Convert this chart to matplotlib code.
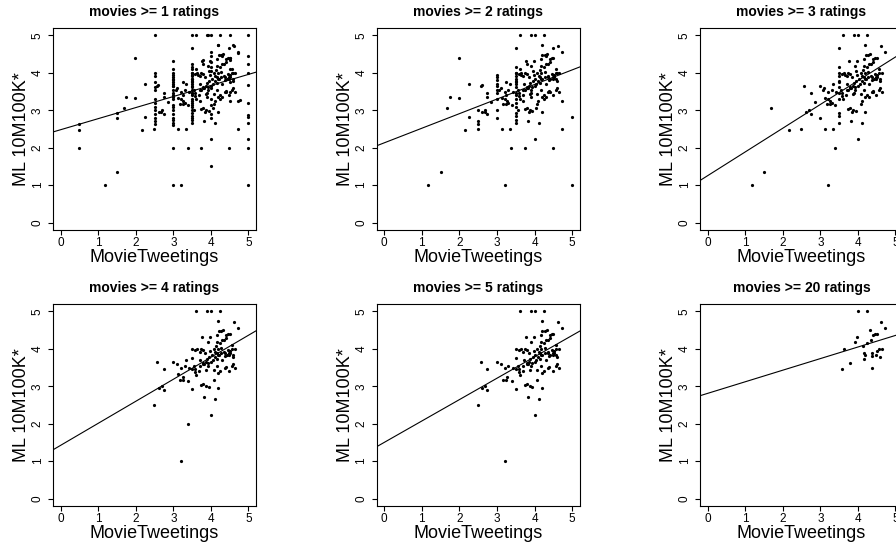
import numpy as np
import matplotlib
matplotlib.use("Agg")
import matplotlib.pyplot as plt

plt.rcParams.update({
    "font.family": ["Liberation Sans", "DejaVu Sans"],
    "axes.linewidth": 0.8,
    "xtick.major.width": 0.8,
    "ytick.major.width": 0.8,
    "xtick.major.size": 3.6,
    "ytick.major.size": 3.6,
})

# --- data: (MovieTweetings, ML 10M100K*) per minimum rating count ---------
# movies with >= 20 ratings
mt_20 = [4.0, 4.25, 4.62, 4.72, 3.98, 3.91, 4.32, 4.4, 4.45, 4.5, 4.35, 4.25, 4.14, 4.56,
         4.65, 3.63, 4.52, 4.37, 4.15, 4.18, 4.49, 4.38, 4.6, 4.15, 3.8, 3.58, 4.37]
ml_20 = [5.0, 5.0, 4.72, 4.55, 4.32, 4.18, 4.5, 4.37, 4.4, 4.4, 4.25, 4.15, 4.07, 4.0,
         4.0, 4.0, 3.95, 3.88, 3.88, 3.83, 3.85, 3.81, 3.78, 3.72, 3.63, 3.47, 3.5]

# movies with 5..19 ratings
mt_5 = [3.6, 3.9, 4.2, 4.21, 4.28, 3.76, 4.16, 4.4, 4.16, 4.3, 4.57,
        3.51, 3.58, 3.75, 3.79, 3.98, 4.07, 4.18, 4.27,
        2.57, 3.0, 3.1, 3.5, 2.74, 3.21, 3.42, 3.5,
        3.26, 3.17, 3.25, 3.39, 3.59, 3.61, 2.69, 2.61, 2.74, 2.49,
        3.5, 3.75, 3.79, 3.88, 3.94, 4.2, 3.82, 4.12, 4.0, 3.2,
        3.72, 3.82, 3.89, 3.93, 4.0, 4.05, 4.1, 4.21, 4.27, 4.35, 4.42, 4.48, 4.51, 4.58,
        4.6, 4.65, 4.56, 4.39, 4.48, 4.16, 4.07, 3.88, 3.91, 3.79, 3.7, 3.68, 4.25, 4.2, 4.07,
        3.85, 3.7, 4.02, 4.12, 3.95, 4.3, 3.86, 4.45, 3.3, 3.55]
ml_5 = [5.0, 5.0, 4.74, 4.49, 4.49, 4.33, 4.38, 4.3, 4.18, 4.23, 4.1,
        4.0, 3.98, 4.0, 3.97, 3.95, 4.0, 4.0, 4.02,
        3.66, 3.64, 3.6, 3.75, 3.46, 3.5, 3.48, 3.47,
        3.24, 3.17, 3.17, 3.13, 3.38, 3.3, 3.0, 2.95, 2.9, 2.5,
        2.92, 3.04, 3.06, 3.0, 2.98, 2.95, 2.72, 2.66, 2.22, 1.0,
        3.7, 3.6, 3.72, 3.63, 3.66, 3.69, 3.79, 3.83, 3.88, 3.92, 3.85, 3.88, 3.9, 3.83,
        3.6, 3.5, 3.55, 3.51, 3.41, 3.55, 3.44, 3.44, 3.53, 3.6, 3.53, 3.42, 3.42, 3.35, 3.16,
        3.88, 3.93, 3.85, 3.93, 3.78, 3.7, 3.65, 3.98, 3.55, 3.55]

# movies with exactly 4 ratings
mt_4 = [3.38, 3.34, 3.12]
ml_4 = [2.0, 3.7, 3.33]

# movies with exactly 3 ratings
mt_3 = [1.17, 1.5, 1.68, 2.16, 2.85, 3.0, 3.12, 3.34, 3.5, 3.5, 3.5, 3.5, 3.5, 3.5, 3.5, 3.5,
        3.06, 3.2, 3.3, 3.65, 3.75, 3.9, 4.1, 3.85, 4.3, 4.4, 3.95]
ml_3 = [1.0, 1.34, 3.05, 2.46, 3.23, 2.79, 2.5, 2.5, 4.66, 4.16, 3.91, 3.79, 3.61, 3.31, 2.65, 2.86,
        3.54, 3.3, 3.2, 3.95, 3.55, 3.45, 3.25, 2.95, 3.35, 3.5, 4.05]

# movies with exactly 2 ratings
mt_2 = [1.99, 1.99, 1.74, 2.25, 2.25, 2.5, 2.5, 2.5, 2.6, 2.68, 2.74,
        3.0, 3.0, 3.0, 3.0, 3.0, 3.0, 3.0, 3.0,
        3.5, 3.5, 3.5, 3.5, 3.5, 3.5, 3.5,
        3.75, 4.49, 4.73, 4.73, 5.0, 5.0, 4.49,
        3.25, 3.6, 3.8, 4.3, 3.7, 4.05, 4.25, 3.25, 4.6, 3.9, 3.55]
ml_2 = [4.39, 3.34, 3.35, 3.71, 2.82, 2.72, 2.63, 3.0, 3.67, 2.96, 3.36,
        3.95, 3.9, 3.8, 3.7, 3.55, 3.45, 3.3, 3.0,
        4.0, 3.85, 3.7, 3.4, 3.2, 3.1, 2.75,
        2.0, 2.0, 2.5, 3.25, 2.83, 1.0, 4.66,
        3.75, 4.1, 4.25, 4.45, 3.25, 3.05, 3.3, 3.4, 4.0, 3.35, 3.0]

# movies with a single rating
mt_1 = [0.5, 0.5, 0.5, 1.5, 1.5,
        2.5, 2.5, 2.5, 2.5, 2.5, 2.5, 2.5, 2.5, 2.5, 2.5, 2.5,
        3.0, 3.0, 3.0, 3.0, 3.0, 3.0, 3.0, 3.0, 3.0, 3.0, 3.0, 3.0, 3.0, 3.0, 3.0, 3.0,
        3.5, 3.5, 3.5, 3.5, 3.5, 3.5, 3.5, 3.5, 3.5, 3.5, 3.5, 3.5,
        4.0, 4.0, 4.0, 4.0, 4.0, 4.0, 4.0, 4.0, 4.0, 4.0, 4.0, 3.92,
        4.5, 4.5, 4.5, 4.5, 4.5, 4.5, 4.5,
        5.0, 5.0, 5.0, 5.0, 5.0, 5.0, 5.0, 5.0, 5.0, 5.0,
        4.77, 4.72, 4.6, 4.18, 3.8]
ml_1 = [2.64, 2.46, 2.0, 2.79, 2.94,
        5.0, 4.0, 3.92, 3.75, 3.62, 3.55, 3.3, 3.2, 3.1, 2.9, 2.8,
        4.33, 4.1, 4.0, 3.85, 3.75, 3.65, 3.4, 3.35, 3.15, 3.1, 2.9, 2.75, 2.67, 2.6, 2.0, 1.0,
        5.0, 4.25, 4.1, 3.95, 3.85, 3.65, 3.55, 3.45, 3.25, 3.15, 3.0, 2.8,
        4.55, 4.45, 4.3, 4.15, 4.05, 3.6, 3.3, 3.15, 2.9, 2.8, 1.5, 5.0,
        5.0, 4.4, 4.35, 4.1, 3.75, 3.5, 3.25,
        5.0, 4.46, 4.25, 4.0, 3.67, 3.2, 2.87, 2.67, 2.22, 2.0,
        3.27, 4.54, 4.75, 4.75, 4.34]

# fitted lines (intercept, slope) per threshold
thresholds = [1, 2, 3, 4, 5, 20]
intercepts = [2.48, 2.13, 1.25, 1.42, 1.50, 2.81]
slopes = [0.296, 0.39, 0.635, 0.589, 0.572, 0.31]

mt = np.array(mt_20 + mt_5 + mt_4 + mt_3 + mt_2 + mt_1)
ml = np.array(ml_20 + ml_5 + ml_4 + ml_3 + ml_2 + ml_1)
nrat = np.array([25] * len(mt_20) + [8] * len(mt_5) + [4] * len(mt_4)
                + [3] * len(mt_3) + [2] * len(mt_2) + [1] * len(mt_1))

# --- figure -----------------------------------------------------------------
W, H = 896, 546
fig = plt.figure(figsize=(W / 100, H / 100), dpi=100)
lefts = [53, 376.7, 700]
bottoms = [230, 506]
bw, bh = 203, 202

for i, (k, a, b) in enumerate(zip(thresholds, intercepts, slopes)):
    r, c = divmod(i, 3)
    ax = fig.add_axes([lefts[c] / W, 1 - bottoms[r] / H, bw / W, bh / H])
    sel = nrat >= k
    ax.plot(mt[sel], ml[sel], "o", color="black", markersize=2.3, markeredgewidth=0)
    ax.axline((0, a), slope=b, color="black", lw=0.8)
    ax.set_xlim(-0.2, 5.2)
    ax.set_ylim(-0.2, 5.2)
    ax.set_xticks(range(6))
    ax.set_yticks(range(6))
    ax.tick_params(labelsize=8.5, pad=1.5)
    ax.tick_params(axis="y", labelrotation=90, pad=3)
    for t in ax.get_yticklabels():
        t.set_va("center")
    ax.set_title(f"movies >= {k} ratings", fontsize=10, fontweight="bold", pad=8.5)
    ax.set_xlabel("MovieTweetings", fontsize=13)
    ax.set_ylabel("ML 10M100K*", fontsize=13)
    ax.xaxis.set_label_coords(0.5, -0.134)
    ax.yaxis.set_label_coords(-0.154, 0.5)
    ax.xaxis.label.set_va("center")
    ax.yaxis.label.set_va("center")

fig.savefig("out.png", dpi=100)
